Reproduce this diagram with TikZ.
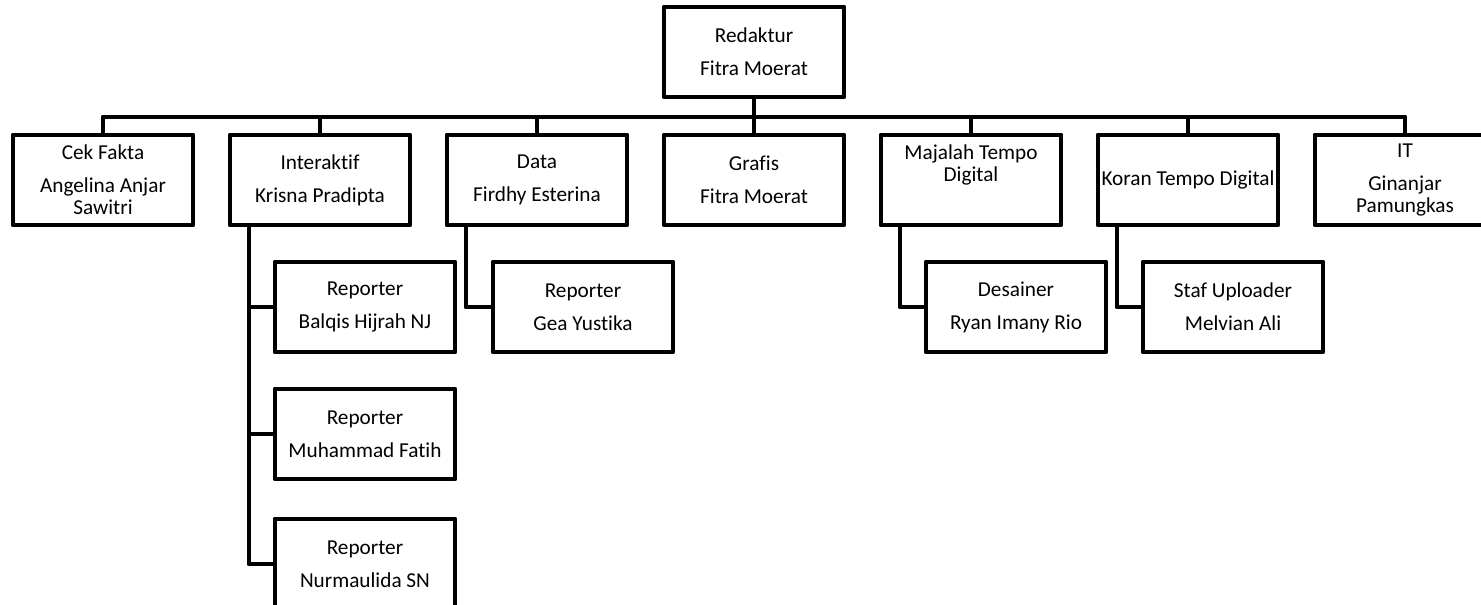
\documentclass[tikz,border=0pt]{standalone}
\usepackage{fontspec}
\setmainfont{Carlito}[Ligatures={NoCommon}]
\begin{document}
\begin{tikzpicture}[x=0.0215cm, y=-0.0215cm,
    orgBox/.style={draw, line width=3pt, line join=round, minimum width=3.87cm, minimum height=1.935cm,
      inner sep=0pt, outer sep=0pt, align=center, font=\fontsize{13}{13.4}\selectfont},
    orgLine/.style={line width=3pt, line join=round},
]
\useasboundingbox (0,0) rectangle (1481,605);
% Head
\node[orgBox] (redaktur) at (754,52) {Redaktur\\[6.7pt]Fitra Moerat};
% Desks
\node[orgBox] (cek) at (103,180) {Cek Fakta\\[6.7pt]Angelina Anjar\\Sawitri};
\node[orgBox] (inter) at (320,180) {Interaktif\\[6.7pt]Krisna Pradipta};
\node[orgBox] (data) at (537,180) {Data\\[6.7pt]Firdhy Esterina};
\node[orgBox] (grafis) at (754,180) {Grafis\\[6.7pt]Fitra Moerat};
\node[orgBox] (majalah) at (971,180) {Majalah Tempo\\Digital\\[6.7pt]\mbox{}};
\node[orgBox] (koran) at (1188,180) {Koran Tempo Digital};
\node[orgBox] (it) at (1405,180) {IT\\[6.7pt]Ginanjar\\Pamungkas};
% Staff
\node[orgBox] (balqis) at (365,307) {Reporter\\[6.7pt]Balqis Hijrah NJ};
\node[orgBox] (fatih) at (365,434) {Reporter\\[6.7pt]Muhammad Fatih};
\node[orgBox] (nurma) at (365,564) {Reporter\\[6.7pt]Nurmaulida SN};
\node[orgBox] (gea) at (583,307) {Reporter\\[6.7pt]Gea Yustika};
\node[orgBox] (desainer) at (1016,307) {Desainer\\[6.7pt]Ryan Imany Rio};
\node[orgBox] (uploader) at (1233,307) {Staf Uploader\\[6.7pt]Melvian Ali};
% Bus
\coordinate (bus) at (754,117);
\draw[orgLine] (redaktur.south) -- (bus);
\draw[orgLine] (cek.north) |- (bus) -| (it.north);
\foreach \d in {inter,data,grafis,majalah,koran}
  \draw[orgLine] (\d.north) -- (\d.north |- bus);
% Sub lines
\foreach \d/\s in {inter/balqis,inter/fatih,inter/nurma,data/gea,majalah/desainer,koran/uploader}
  \draw[orgLine] (\d.south west) ++(19,0) |- (\s.west);
\end{tikzpicture}
\end{document}
